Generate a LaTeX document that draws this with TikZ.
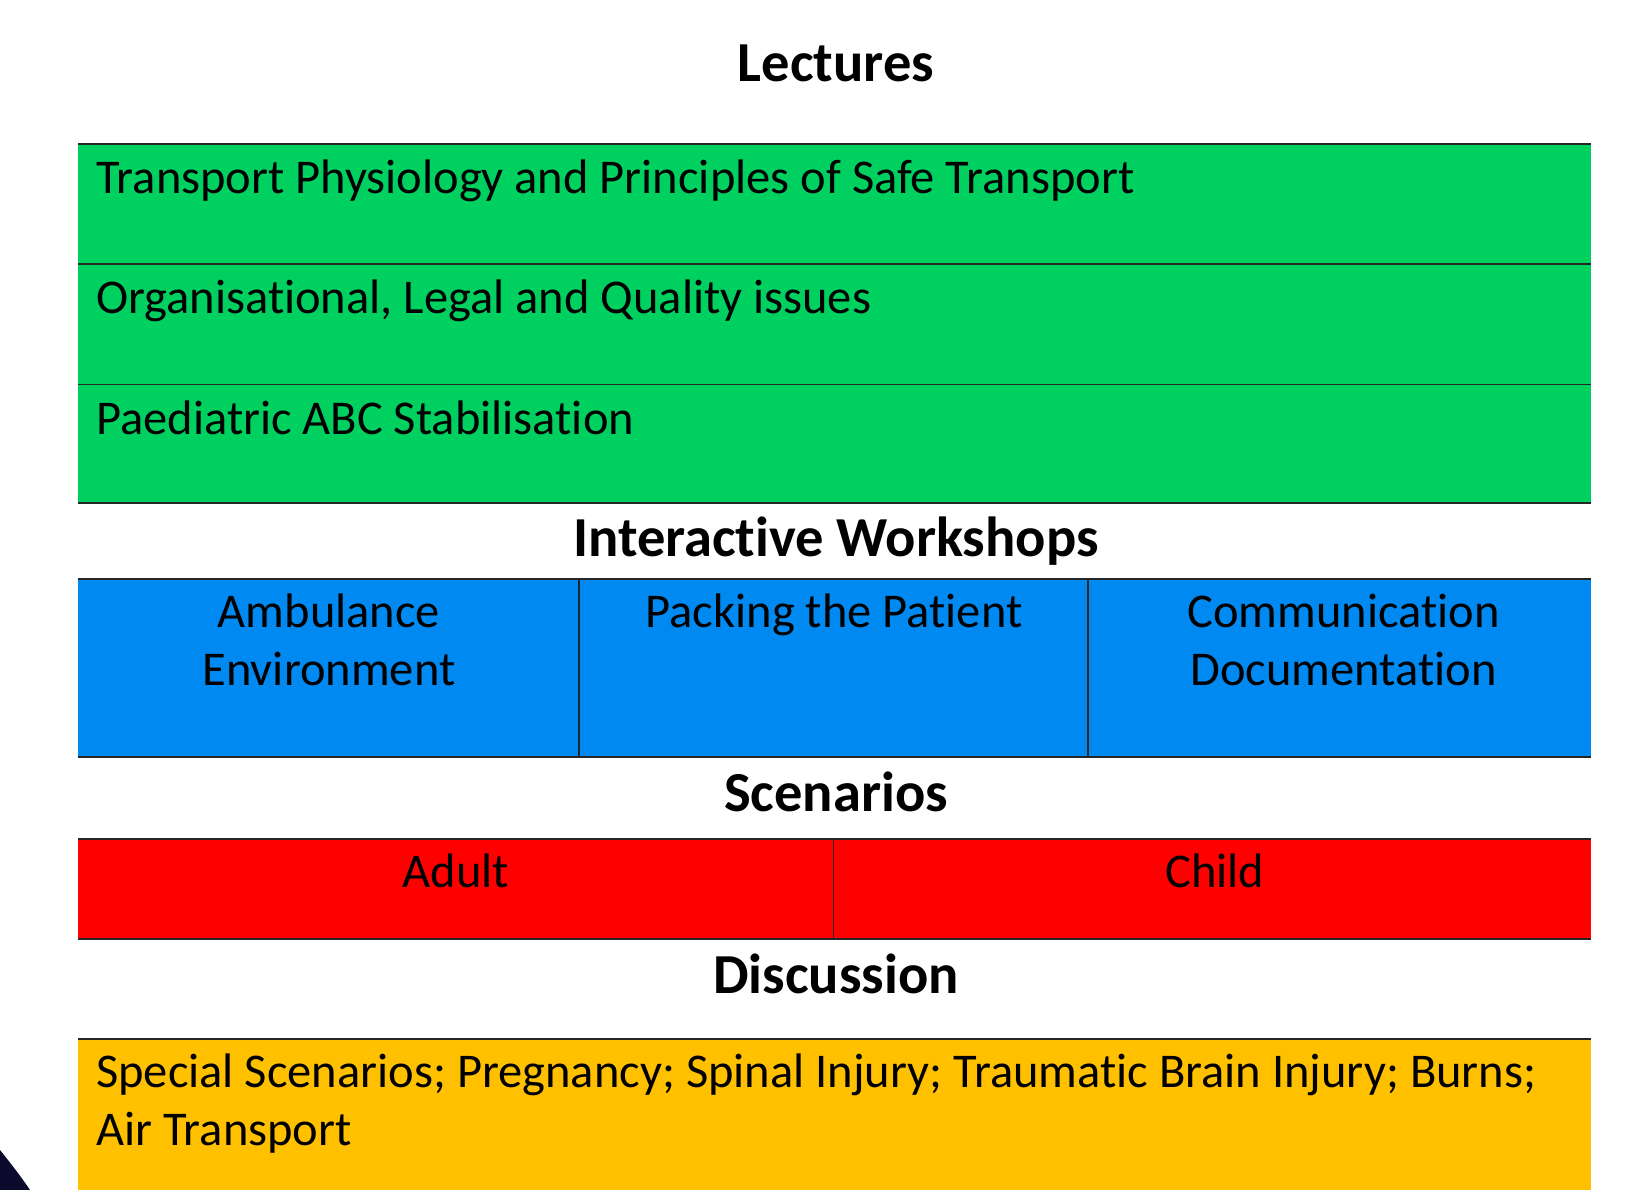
\documentclass[tikz,border=0pt]{standalone}
\usepackage{fontspec}
\setmainfont{Carlito}[Ligatures=NoCommon]
\definecolor{lgreen}{RGB}{0,208,96}
\definecolor{wblue}{RGB}{0,137,240}
\definecolor{sred}{RGB}{255,0,0}
\definecolor{dyellow}{RGB}{255,192,0}
\definecolor{cornerdark}{RGB}{12,10,45}
\newcommand\bodysz{\fontsize{48.5}{58.5}\selectfont}
\newcommand\headsz{\bfseries\fontsize{56.5}{66}\selectfont}
\begin{document}
\begin{tikzpicture}[x=1pt,y=-1pt,
  body/.style={font=\bodysz, inner sep=0pt},
  heading/.style={font=\headsz, inner sep=0pt},
  rule/.style={line width=1.6pt, draw=black!85},
  divider/.style={line width=1.4pt, draw=black!85}]
\useasboundingbox[fill=white] (0,0) rectangle (1638,1190);
% background cells
\fill[lgreen] (78,144) rectangle (1591,503);
\fill[wblue] (78,579) rectangle (1591,757);
\fill[sred] (78,839) rectangle (1591,939);
\fill[dyellow] (78,1039) rectangle (1591,1190);
% dark corner
\fill[cornerdark] (0,1150) .. controls (12,1165) and (22,1178) .. (30,1190) -- (0,1190) -- cycle;
% coordinates for rules
\foreach \y/\n in {144/ga,264/gb,384.5/gc,503/gd,579/ba,757/bb,839/ra,939/rb,1039/ya}{
  \coordinate (\n L) at (78,\y);
  \coordinate (\n R) at (1591,\y);
}
\foreach \n in {ga,gb,gc,gd,ba,bb,ra,rb,ya}{
  \draw[rule] (\n L) -- (\n R);
}
\coordinate (bd1t) at (579,579); \coordinate (bd1b) at (579,757);
\coordinate (bd2t) at (1088,579); \coordinate (bd2b) at (1088,757);
\coordinate (rd1t) at (833.5,839); \coordinate (rd1b) at (833.5,939);
\draw[divider] (bd1t) -- (bd1b);
\draw[divider] (bd2t) -- (bd2b);
\draw[divider] (rd1t) -- (rd1b);
% headings
\node[heading, anchor=base] (h1) at (836,81.5) {Lectures};
\node[heading, anchor=base] (h2) at (836,556.5) {Interactive Workshops};
\node[heading, anchor=base] (h3) at (836,811.5) {Scenarios};
\node[heading, anchor=base] (h4) at (836,993.5) {Discussion};
% lectures
\node[body, anchor=base west] (t1) at (96,193.7) {Transport Physiology and Principles of Safe Transport};
\node[body, anchor=base west] (t2) at (96,313.7) {Organisational, Legal and Quality issues};
\node[body, anchor=base west] (t3) at (96,434) {Paediatric ABC Stabilisation};
% workshops (base anchor = baseline of last line)
\node[body, anchor=base, align=center] (w1) at (329,685.5) {\bodysz Ambulance\\\bodysz Environment};
\node[body, anchor=base, align=center] (w2) at (834,627) {Packing the Patient};
\node[body, anchor=base, align=center] (w3) at (1343.5,685.5) {\bodysz Communication\\\bodysz Documentation};
% scenarios
\node[body, anchor=base] (s1) at (455.7,887.7) {Adult};
\node[body, anchor=base] (s2) at (1215,887.7) {Child};
% discussion
\node[body, anchor=base west, align=left] (d1) at (96,1145.5) {\bodysz Special Scenarios; Pregnancy; Spinal Injury; Traumatic Brain Injury; Burns;\\\bodysz Air Transport};
\end{tikzpicture}
\end{document}
